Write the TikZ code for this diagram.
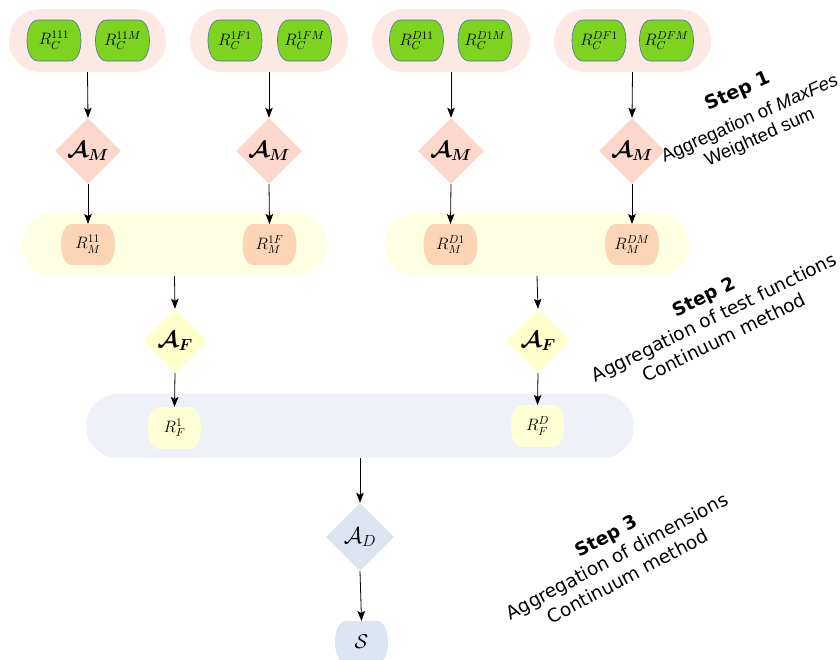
\RequirePackage{fix-cm}
\documentclass[tikz,border=0pt]{standalone}
\usepackage{amsmath,amssymb,bm}
\usepackage{fontspec}
\usetikzlibrary{shapes.geometric,shapes.misc,arrows.meta}
\newfontfamily\stepsansA{Liberation Sans}
\newfontfamily\stepsansB{DejaVu Sans}

\definecolor{capPink}{RGB}{253,233,228}
\definecolor{leafGreen}{RGB}{126,211,33}
\definecolor{leafEdge}{RGB}{80,110,170}
\definecolor{aggPink}{RGB}{252,216,204}
\definecolor{capYellow}{RGB}{255,255,228}
\definecolor{peach}{RGB}{252,213,183}
\definecolor{aggYellow}{RGB}{255,255,204}
\definecolor{capBlue}{RGB}{238,242,248}
\definecolor{resYellow}{RGB}{255,255,214}
\definecolor{aggBlue}{RGB}{221,228,240}
\definecolor{resBlue}{RGB}{221,229,243}

% a box with flat top and bottom and softly bulging sides
\newdimen\brlL \newdimen\brlR \newdimen\brlT \newdimen\brlB
\makeatletter
\pgfdeclareshape{barrel}{%
  \inheritsavedanchors[from=rectangle]%
  \inheritanchorborder[from=rectangle]%
  \inheritanchor[from=rectangle]{center}%
  \inheritanchor[from=rectangle]{north}%
  \inheritanchor[from=rectangle]{south}%
  \inheritanchor[from=rectangle]{east}%
  \inheritanchor[from=rectangle]{west}%
  \inheritanchor[from=rectangle]{north east}%
  \inheritanchor[from=rectangle]{north west}%
  \inheritanchor[from=rectangle]{south east}%
  \inheritanchor[from=rectangle]{south west}%
  \inheritanchor[from=rectangle]{text}%
  \inheritanchor[from=rectangle]{base}%
  \inheritanchor[from=rectangle]{mid}%
  \backgroundpath{%
    \southwest \brlL=\pgf@x \brlB=\pgf@y
    \northeast \brlR=\pgf@x \brlT=\pgf@y
    \pgfpathmoveto{\pgfpoint{\brlL+11pt}{\brlT}}%
    \pgfpathlineto{\pgfpoint{\brlR-11pt}{\brlT}}%
    \pgfpathcurveto{\pgfpoint{\brlR+3.7pt}{\brlT}}{\pgfpoint{\brlR+3.7pt}{\brlB}}{\pgfpoint{\brlR-11pt}{\brlB}}%
    \pgfpathlineto{\pgfpoint{\brlL+11pt}{\brlB}}%
    \pgfpathcurveto{\pgfpoint{\brlL-3.7pt}{\brlB}}{\pgfpoint{\brlL-3.7pt}{\brlT}}{\pgfpoint{\brlL+11pt}{\brlT}}%
    \pgfpathclose
  }%
}
\makeatother

\tikzset{
  capsule/.style={rounded rectangle, minimum height=63pt, inner sep=0pt, draw=none},
  barrelbox/.style={shape=barrel, minimum width=54pt, minimum height=41pt,
    inner sep=0pt, outer sep=0pt, font=\fontsize{16.5}{19}\selectfont},
  leaf/.style={barrelbox, fill=leafGreen, draw=leafEdge, line width=0.6pt},
  agg/.style={diamond, aspect=1, inner sep=0pt, minimum size=66pt,
    font=\fontsize{23}{26}\selectfont},
  arr/.style={-{Stealth[length=10pt,width=7.5pt,inset=2pt]}, line width=0.8pt},
  steptext/.style={align=center, inner sep=0pt},
  stepA/.style={inner sep=0pt, rotate=24, font=\stepsansA\fontsize{18.5}{21}\selectfont}
}

\begin{document}
\begin{tikzpicture}[x=1pt,y=-1pt]
\useasboundingbox (0,0) rectangle (840,659);

% level 1: MaxFes results grouped by test function
\node[capsule, fill=capPink, minimum width=157pt] (g1) at (87.5,40.5) {};
\node[capsule, fill=capPink, minimum width=158pt] (g2) at (269,40.5) {};
\node[capsule, fill=capPink, minimum width=158pt] (g3) at (451,40.5) {};
\node[capsule, fill=capPink, minimum width=157pt] (g4) at (632.5,40.5) {};

\node[leaf] (c111) at (54,40.5)  {$R_C^{111}$};
\node[leaf] (c11M) at (122.5,40.5) {$R_C^{11M}$};
\node[leaf] (c1F1) at (235,40.5) {$R_C^{1F1}$};
\node[leaf] (c1FM) at (304.5,40.5) {$R_C^{1FM}$};
\node[leaf] (cD11) at (416.5,40.5) {$R_C^{D11}$};
\node[leaf] (cD1M) at (485,40.5) {$R_C^{D1M}$};
\node[leaf] (cDF1) at (599,40.5) {$R_C^{DF1}$};
\node[leaf] (cDFM) at (666.5,40.5) {$R_C^{DFM}$};

% aggregation of MaxFes
\node[agg, fill=aggPink] (am1) at (88,151)  {$\bm{\mathcal{A}_M}$};
\node[agg, fill=aggPink] (am2) at (269,151) {$\bm{\mathcal{A}_M}$};
\node[agg, fill=aggPink] (am3) at (451,151) {$\bm{\mathcal{A}_M}$};
\node[agg, fill=aggPink] (am4) at (632,151) {$\bm{\mathcal{A}_M}$};

% level 2: results per test function
\node[capsule, fill=capYellow, minimum width=305pt] (y1) at (174.5,244.5) {};
\node[capsule, fill=capYellow, minimum width=304pt] (y2) at (537,244.5) {};

\node[barrelbox, fill=peach] (m11) at (88,244.5)  {$R_M^{11}$};
\node[barrelbox, fill=peach] (m1F) at (269.5,244.5) {$R_M^{1F}$};
\node[barrelbox, fill=peach] (mD1) at (450.5,244.5) {$R_M^{D1}$};
\node[barrelbox, fill=peach] (mDM) at (632,244.5) {$R_M^{DM}$};

% aggregation of test functions
\node[agg, fill=aggYellow, minimum size=64pt] (af1) at (175,341) {$\bm{\mathcal{A}_F}$};
\node[agg, fill=aggYellow, minimum size=64pt] (af2) at (538,341) {$\bm{\mathcal{A}_F}$};

% level 3: results per dimension
\node[capsule, fill=capBlue, minimum width=548pt, minimum height=64pt] (b1) at (360,426) {};
\node[barrelbox, fill=resYellow, minimum width=53pt, minimum height=42pt] (f1) at (174.5,428) {$R_F^{1}$};
\node[barrelbox, fill=resYellow, minimum width=53pt, minimum height=42pt] (fD) at (537.5,426) {$R_F^{D}$};

% aggregation of dimensions and final score
\node[agg, fill=aggBlue, minimum size=68pt] (ad) at (360,537) {$\mathcal{A}_D$};
\node[barrelbox, fill=resBlue, minimum width=53pt, minimum height=42pt,
      font=\fontsize{20}{22}\selectfont] (s) at (361.5,642) {$\mathcal{S}$};

% connectors
\foreach \g/\a/\m in {g1/am1/m11, g2/am2/m1F, g3/am3/mD1, g4/am4/mDM}{
  \draw[arr] (\g.south) -- (\a.north);
  \draw[arr] (\a.south) -- (\m.north);
}
\draw[arr] (y1.south) -- (af1.north);
\draw[arr] (af1.south) -- (f1.north);
\draw[arr] (y2.south) -- (af2.north);
\draw[arr] (af2.south) -- (fD.north);
\draw[arr] (b1.south) -- (ad.north);
\draw[arr] (ad.south) -- (s.north);

% step descriptions
\node[stepA, font=\stepsansB\bfseries\fontsize{19}{22}\selectfont] (st1a) at (738,92) {Step 1};
\node[stepA] (st1b) at (750,119) {Aggregation of \textit{MaxFes}};
\node[stepA] (st1c) at (760,138) {Weighted sum};
\node[steptext, rotate=26, font=\stepsansB\fontsize{18.5}{23}\selectfont] (st2) at (714,317)
  {{\bfseries Step 2}\\Aggregation of test functions\\Continuum method};
\node[steptext, rotate=28, font=\stepsansB\fontsize{18.5}{23}\selectfont] (st3) at (617,556)
  {{\bfseries Step 3}\\Aggregation of dimensions\\Continuum method};
\end{tikzpicture}
\end{document}
